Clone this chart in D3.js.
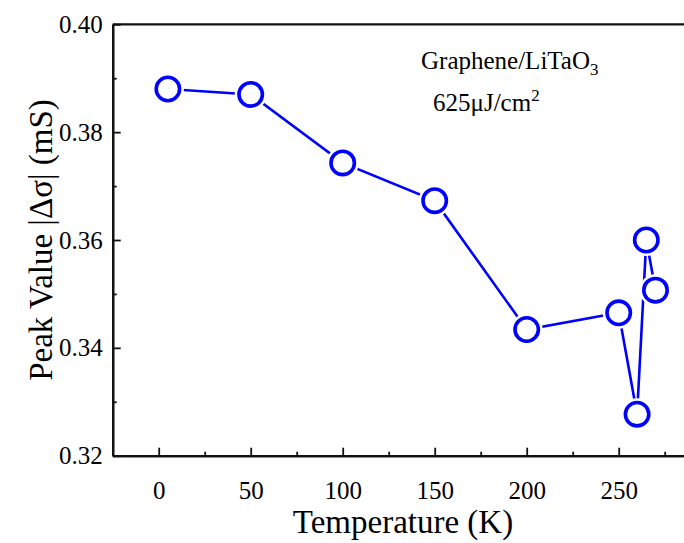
<!DOCTYPE html>
<html lang="en">
<head>
    <meta charset="UTF-8">
    <title>Peak Value vs Temperature</title>
    <script src="https://d3js.org/d3.v7.min.js"></script>
    <style>
        body { margin: 0; background: #fff; }
        svg { display: block; font-family: 'Liberation Serif', 'Times New Roman', serif; }
    </style>
</head>
<body>
<div id="chart"></div>
<script>
    // data
    var temperature = [5, 50, 100, 150, 200, 250, 260, 265, 270];
    var peakValue = [0.3880, 0.3870, 0.3743, 0.3673, 0.3434, 0.3465, 0.3277, 0.3600, 0.3507];
    var xTicks = [0, 50, 100, 150, 200, 250];
    var yTicks = [0.32, 0.34, 0.36, 0.38, 0.40];

    var W = 684, H = 543;
    var mLeft = 112.7, mTop = 24.3, mBottom = 455.7;

    var svg = d3.select("#chart").append("svg")
        .attr("width", W)
        .attr("height", H);

    var x = d3.scaleLinear().domain([-25, 290]).range([mLeft, mLeft + 315 * 1.84]);
    var y = d3.scaleLinear().domain([0.32, 0.40]).range([mBottom, mTop]);

    var pts = temperature.map((t, i) => ({t: t, v: peakValue[i]}));

    // line + markers (white halo gives the gap Origin leaves round each symbol)
    svg.append("path")
        .datum(pts)
        .attr("fill", "none")
        .attr("stroke", "#0000ff")
        .attr("stroke-width", 2.6)
        .attr("d", d3.line().x(d => x(d.t)).y(d => y(d.v)));

    svg.selectAll("circle.halo")
        .data(pts)
        .enter().append("circle")
        .attr("class", "halo")
        .attr("cx", d => x(d.t))
        .attr("cy", d => y(d.v))
        .attr("r", 16)
        .attr("fill", "#fff");

    svg.selectAll("circle.pt")
        .data(pts)
        .enter().append("circle")
        .attr("class", "pt")
        .attr("cx", d => x(d.t))
        .attr("cy", d => y(d.v))
        .attr("r", 11.7)
        .attr("fill", "none")
        .attr("stroke", "#0000ff")
        .attr("stroke-width", 3.6);

    // axes, ticks pointing inward
    svg.append("g")
        .attr("transform", "translate(0," + mBottom + ")")
        .call(d3.axisBottom(x).tickValues(xTicks).tickSizeInner(-8).tickSizeOuter(0).tickPadding(26).tickFormat(d3.format("d")));
    svg.append("g")
        .attr("transform", "translate(0," + mBottom + ")")
        .call(d3.axisBottom(x).tickValues([25, 75, 125, 175, 225, 275]).tickSizeInner(-4).tickSizeOuter(0).tickFormat(""));

    svg.append("g")
        .attr("transform", "translate(" + mLeft + ",0)")
        .call(d3.axisLeft(y).tickValues(yTicks).tickSizeInner(-8).tickSizeOuter(0).tickPadding(10).tickFormat(d3.format(".2f")));
    svg.append("g")
        .attr("transform", "translate(" + mLeft + ",0)")
        .call(d3.axisLeft(y).tickValues([0.33, 0.35, 0.37, 0.39]).tickSizeInner(-4).tickSizeOuter(0).tickFormat(""));

    svg.selectAll(".domain").attr("stroke", "#111").attr("stroke-width", 2.2);
    svg.selectAll(".tick line").attr("stroke", "#111").attr("stroke-width", 1.8);
    svg.selectAll(".tick text").attr("fill", "#000").style("font-size", "25px")
        .style("font-family", "'Liberation Serif', serif");

    // top frame line
    svg.append("line")
        .attr("x1", mLeft).attr("x2", W)
        .attr("y1", mTop).attr("y2", mTop)
        .attr("stroke", "#111").attr("stroke-width", 2.2);

    // axis titles
    svg.append("text")
        .attr("x", 403).attr("y", 533)
        .attr("text-anchor", "middle")
        .style("font-size", "33px")
        .text("Temperature (K)");

    svg.append("text")
        .attr("transform", "translate(52,240) rotate(-90)")
        .attr("text-anchor", "middle")
        .style("font-size", "33px")
        .text("Peak Value |\u0394\u03c3| (mS)");

    // annotation
    var a1 = svg.append("text").attr("x", 421).attr("y", 69).style("font-size", "25px");
    a1.append("tspan").text("Graphene/LiTaO");
    a1.append("tspan").attr("dy", 6).style("font-size", "17px").text("3");

    var a2 = svg.append("text").attr("x", 433).attr("y", 111).style("font-size", "25px");
    a2.append("tspan").text("625\u03bcJ/cm");
    a2.append("tspan").attr("dy", -10).style("font-size", "17px").text("2");
</script>
</body>
</html>
